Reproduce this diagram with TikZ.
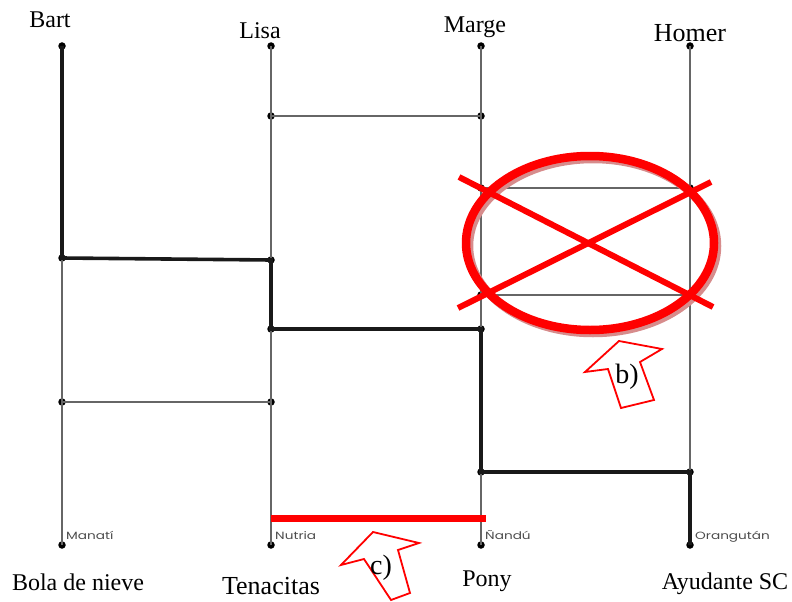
\documentclass[tikz,border=0pt]{standalone}
\usepackage{fontspec}
\setmainfont{Liberation Serif}
\newfontfamily\tagfont[FakeStretch=1.3]{Poppins}
\usetikzlibrary{positioning}
\tikzset{
  dot/.style={
    circle,
    fill=black,
    inner sep=0pt,
    minimum size=7.5pt
  },
  rung/.style={
    draw=black!60,
    line width=1.2pt
  },
  walk/.style={
    draw=black!90,
    line width=3.6pt
  },
  person/.style={
    anchor=base,
    inner sep=0pt,
    font=\fontsize{24}{24}\selectfont
  },
  animal/.style={
    anchor=base west,
    inner sep=0pt,
    text=black!70,
    font=\tagfont\fontsize{10.5}{10.5}\selectfont
  },
  redmark/.style={
    draw=red,
    line width=7pt
  },
  hint/.style={
    draw=red,
    line width=1.8pt,
    fill=white,
    line join=miter
  },
  hintlabel/.style={
    inner sep=0pt,
    font=\fontsize{28}{28}\selectfont
  }
}

\begin{document}
\begin{tikzpicture}[x=1pt,y=-1pt]
  \useasboundingbox (0,0) rectangle (792,602);

  % top and bottom of the columns
  \node[dot] (bart) at (62,46) {};
  \node[dot] (lisa) at (271,46) {};
  \node[dot] (marge) at (481,46) {};
  \node[dot] (homer) at (690,46) {};
  \node[dot] (manati) at (62,545) {};
  \node[dot] (nutria) at (271,545) {};
  \node[dot] (nandu) at (481,545) {};
  \node[dot] (orangutan) at (690,545) {};

  % rung ends
  \node[dot] (b1) at (62,258) {};
  \node[dot] (b2) at (62,402) {};
  \node[dot] (l1) at (271,116) {};
  \node[dot] (l2) at (271,260) {};
  \node[dot] (l3) at (271,329) {};
  \node[dot] (l4) at (271,402) {};
  \node[dot] (m1) at (481,116) {};
  \node[dot] (m2) at (481,188) {};
  \node[dot] (m3) at (481,295) {};
  \node[dot] (m4) at (481,329) {};
  \node[dot] (m5) at (481,472) {};
  \node[dot] (h2) at (690,188) {};
  \node[dot] (h3) at (690,295) {};
  \node[dot] (h5) at (690,472) {};

  % columns
  \draw[rung] (bart.center) -- (manati.center);
  \draw[rung] (lisa.center) -- (nutria.center);
  \draw[rung] (marge.center) -- (nandu.center);
  \draw[rung] (homer.center) -- (orangutan.center);

  % rungs
  \draw[rung] (l1.center) -- (m1.center);
  \draw[rung] (m2.center) -- (h2.center);
  \draw[rung] (m3.center) -- (h3.center);
  \draw[rung] (b2.center) -- (l4.center);

  % Bart's way down
  \draw[walk] (bart.center) -- (b1.center) -- (l2.center) -- (l3.center)
    -- (m4.center) -- (m5.center) -- (h5.center) -- (orangutan.center);

  % names
  \node[person] (tBart) at (50,28) {Bart};
  \node[person] (tLisa) at (260,38) {Lisa};
  \node[person] (tMarge) at (475,33) {Marge};
  \node[person, font=\fontsize{26}{26}\selectfont] (tHomer) at (690,42) {Homer};
  \node[person] (tBola) at (78,590) {Bola de nieve};
  \node[person, font=\fontsize{26}{26}\selectfont] (tTenacitas) at (271,594) {Tenacitas};
  \node[person] (tPony) at (487,586) {Pony};
  \node[person] (tAyudante) at (725,589) {Ayudante SC};

  \node[animal] (aManati) at (66,539) {Manatí};
  \node[animal] (aNutria) at (275,539) {Nutria};
  \node[animal] (aNandu) at (485,539) {Ñandú};
  \node[animal] (aOrangutan) at (695,539) {Orangután};

  % c) the new rung
  \coordinate (cL) at (271,518);
  \coordinate (cR) at (486,518);
  \draw[redmark] (cL) -- (cR);

  % b) the crossed pair
  \draw[draw=black!35!red!45, line width=8.5pt] (593,246) ellipse (124 and 87);
  \draw[redmark, line width=8.5pt] (590,243) ellipse (124 and 87);
  \draw[redmark, line width=6pt] (459,177) -- (713,307);
  \draw[redmark, line width=6pt] (458,308) -- (711,182);

  % hint arrows
  \draw[hint] (619,341) -- (662,349) -- (640,362) -- (654,400) -- (621,408)
    -- (608,369) -- (585,372) -- cycle;
  \node[hintlabel] (lb) at (627,377) {b)};
  \draw[hint] (373,532) -- (419,543) -- (398,550) -- (410,593) -- (391,600)
    -- (364,559) -- (341,565) -- cycle;
  \node[hintlabel] (lc) at (381,568) {c)};
\end{tikzpicture}
\end{document}
